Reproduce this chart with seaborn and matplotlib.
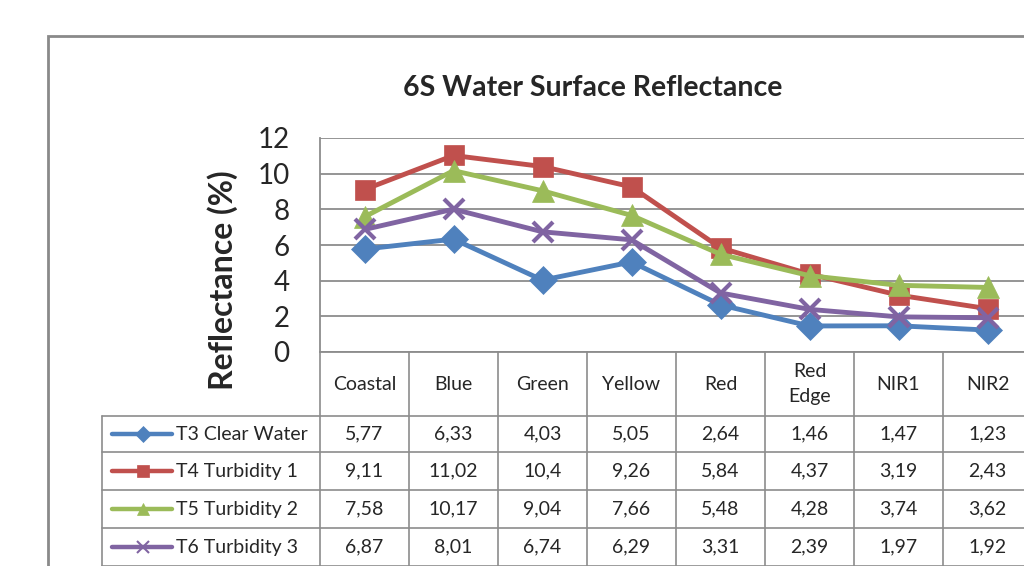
import matplotlib
matplotlib.use("Agg")
import matplotlib.pyplot as plt
import seaborn as sns
import pandas as pd
import numpy as np
from matplotlib.patches import Rectangle
from matplotlib.lines import Line2D
import matplotlib.transforms as mtrans

bands = ["Coastal", "Blue", "Green", "Yellow", "Red", "Red\nEdge", "NIR1", "NIR2"]
series_names = ["T3 Clear Water", "T4 Turbidity 1", "T5 Turbidity 2", "T6 Turbidity 3"]
t3 = [5.77, 6.33, 4.03, 5.05, 2.64, 1.46, 1.47, 1.23]
t4 = [9.11, 11.02, 10.4, 9.26, 5.84, 4.37, 3.19, 2.43]
t5 = [7.58, 10.17, 9.04, 7.66, 5.48, 4.28, 3.74, 3.62]
t6 = [6.87, 8.01, 6.74, 6.29, 3.31, 2.39, 1.97, 1.92]
yticks = [0, 2, 4, 6, 8, 10, 12]

colors = ["#4F81BD", "#C0504D", "#9BBB59", "#8064A2"]
markers = ["D", "s", "^", "x"]
msizes = [14, 15, 16, 15]
values = [t3, t4, t5, t6]

sns.set_theme(style="white")
plt.rcParams["font.family"] = ["Lato", "DejaVu Sans"]

W, H = 1024, 566
fig = plt.figure(figsize=(W / 100, H / 100), dpi=100)

# plot area in pixels
L, R, T, B = 320, 1032, 138, 352
ax = fig.add_axes([L / W, 1 - B / H, (R - L) / W, (B - T) / H])

rows = []
for name, vals in zip(series_names, values):
    for i, v in enumerate(vals):
        rows.append({"series": name, "pos": i, "value": v})
df = pd.DataFrame(rows)

for name, c, m, ms in zip(series_names, colors, markers, msizes):
    sub = df[df["series"] == name]
    sns.lineplot(data=sub, x="pos", y="value", ax=ax, color=c, linewidth=3.5,
                 marker=m, markersize=ms, markeredgecolor=c,
                 markeredgewidth=3 if m == "x" else 0.5, legend=False,
                 clip_on=False, zorder=3)


def ay(py):
    return (B - py) / (B - T)


def axx(px):
    return (px - L) / (R - L)


ax.set_xlim(-0.5, len(bands) - 0.5)
ax.set_ylim(0, 12)
ax.set_yticks(yticks)
ax.set_yticklabels([str(t) for t in yticks], fontsize=20)
ax.tick_params(axis="y", length=0, pad=22)
ax.set_xticks([])
ax.set_xlabel("")
ax.set_ylabel("Reflectance (%)", fontsize=23, fontweight="bold")
ax.yaxis.set_label_coords(axx(238), ay(280))
ax.grid(axis="y", color="#8c8c8c", linewidth=1.3)
for s in ["top", "right"]:
    ax.spines[s].set_visible(False)
ax.spines["left"].set_color("#8c8c8c")
ax.spines["left"].set_linewidth(1.3)
ax.spines["bottom"].set_color("#8c8c8c")
ax.spines["bottom"].set_linewidth(1.3)

fig.text(593 / W, 1 - 88 / H, "6S Water Surface Reflectance", fontsize=20.5,
         fontweight="bold", ha="center", va="center")

# outer chart border
fig.patches.append(Rectangle((48 / W, -0.1), 1.2, 1 - 36 / H + 0.1,
                             transform=fig.transFigure, fill=False,
                             edgecolor="#8a8a8a", linewidth=2))

# data table
trans = mtrans.blended_transform_factory(ax.transData, ax.transAxes)
gcol = "#8c8c8c"
lw = 1.2
row_edges = [416, 452, 490, 528, 566]

for k in range(len(bands) + 1):
    ax.add_line(Line2D([k - 0.5, k - 0.5], [ay(B), ay(566)], transform=trans,
                       color=gcol, lw=lw, clip_on=False))
ax.add_line(Line2D([axx(102), axx(102)], [ay(416), ay(566)], transform=ax.transAxes,
                   color=gcol, lw=lw, clip_on=False))
for py in row_edges:
    ax.add_line(Line2D([axx(102), 1.0], [ay(py), ay(py)], transform=ax.transAxes,
                       color=gcol, lw=lw, clip_on=False))

for i, b in enumerate(bands):
    ax.text(i, ay(384), b, transform=trans, ha="center", va="center",
            fontsize=14, linespacing=1.6, clip_on=False)

for r, (name, vals, c, m, ms) in enumerate(zip(series_names, values, colors, markers, msizes)):
    yc = ay((row_edges[r] + row_edges[r + 1]) / 2)
    for i, v in enumerate(vals):
        txt = f"{v:.2f}".replace(".", ",")
        if v == round(v, 1):
            txt = f"{v:g}".replace(".", ",")
        ax.text(i, yc, txt, transform=trans, ha="center", va="center",
                fontsize=14, clip_on=False)
    ax.add_line(Line2D([axx(112), axx(172)], [yc, yc], transform=ax.transAxes,
                       color=c, lw=3.2, solid_capstyle="round", clip_on=False))
    ax.add_line(Line2D([axx(143)], [yc], transform=ax.transAxes, color=c,
                       marker=m, markersize=ms * 0.55, markeredgecolor=c,
                       markeredgewidth=1.5 if m == "x" else 0.5, clip_on=False))
    ax.text(axx(176), yc, name, transform=ax.transAxes, ha="left", va="center",
            fontsize=14, clip_on=False)

fig.savefig("out.png", dpi=100)
